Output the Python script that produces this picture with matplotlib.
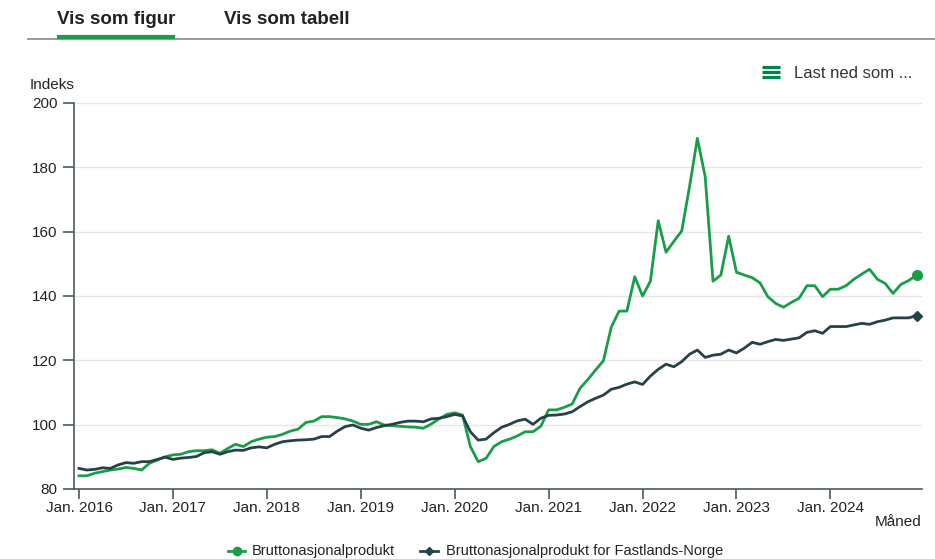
import matplotlib
matplotlib.use("Agg")
import matplotlib.pyplot as plt
from matplotlib.lines import Line2D

plt.rcParams['font.family'] = ['Liberation Sans', 'DejaVu Sans']

series_names = ["Bruttonasjonalprodukt", "Bruttonasjonalprodukt for Fastlands-Norge"]
tick_years = [2016, 2017, 2018, 2019, 2020, 2021, 2022, 2023, 2024]
tick_labels = [f"Jan. {y}" for y in tick_years]
y_ticks = [80, 100, 120, 140, 160, 180, 200]

bnp = [
    84.1, 84.1, 84.9, 85.4, 85.9, 86.2, 86.7, 86.4, 85.9, 88.0, 89.0, 90.0,
    90.6, 90.8, 91.6, 91.9, 91.9, 92.2, 91.1, 92.6, 93.9, 93.2, 94.7, 95.5,
    96.1, 96.3, 97.0, 98.0, 98.6, 100.7, 101.1, 102.5, 102.5, 102.2, 101.8, 101.1,
    100.1, 100.1, 100.9, 99.9, 99.7, 99.5, 99.3, 99.2, 98.9, 100.2, 101.8, 103.2,
    103.7, 103.0, 93.2, 88.5, 89.5, 93.2, 94.7, 95.5, 96.5, 97.8, 97.8, 99.5,
    104.6, 104.6, 105.4, 106.4, 111.3, 114.0, 117.0, 119.9, 130.3, 135.3, 135.3, 146.0,
    140.0, 144.6, 163.4, 153.6, 157.0, 160.2, 174.0, 189.0, 177.1, 144.6, 146.5, 158.6,
    147.4, 146.5, 145.7, 144.1, 139.8, 137.7, 136.5, 138.0, 139.3, 143.2, 143.2, 139.8,
    142.1, 142.1, 143.2, 145.2, 146.8, 148.3, 145.2, 143.9, 140.8, 143.6, 144.8, 146.5,
]
fastland = [
    86.4, 85.9, 86.1, 86.6, 86.4, 87.5, 88.2, 88.0, 88.5, 88.5, 89.2, 89.9,
    89.2, 89.6, 89.8, 90.1, 91.3, 91.6, 90.8, 91.6, 92.1, 92.0, 92.8, 93.1,
    92.8, 93.9, 94.7, 95.0, 95.2, 95.3, 95.5, 96.3, 96.3, 98.0, 99.4, 99.9,
    98.9, 98.3, 99.1, 99.7, 100.1, 100.7, 101.1, 101.1, 100.9, 101.8, 102.0, 102.5,
    103.2, 102.7, 97.8, 95.2, 95.5, 97.5, 99.2, 100.1, 101.2, 101.7, 100.1, 102.0,
    102.9, 103.0, 103.3, 104.0, 105.6, 107.1, 108.2, 109.2, 111.0, 111.6, 112.6, 113.3,
    112.5, 115.1, 117.2, 118.8, 118.0, 119.6, 121.9, 123.2, 120.9, 121.6, 121.9, 123.2,
    122.3, 123.8, 125.6, 125.0, 125.8, 126.5, 126.2, 126.6, 127.0, 128.7, 129.2, 128.4,
    130.5, 130.5, 130.5, 131.0, 131.5, 131.2, 132.0, 132.5, 133.2, 133.2, 133.2, 133.9,
]

GREEN = "#1a9d49"
DARK = "#274247"
TEXT = "#222222"

W, H = 935, 559
fig = plt.figure(figsize=(W / 100, H / 100), dpi=100)

def fx(px):
    return px / W

def fy(py):
    return 1 - py / H

ax = fig.add_axes([fx(74), fy(489), fx(922) - fx(74), fy(103) - fy(489)])
months = list(range(len(bnp)))

ax.plot(months, bnp, color=GREEN, lw=2.0, solid_joinstyle='round', zorder=3)
ax.plot(months, fastland, color=DARK, lw=2.0, solid_joinstyle='round', zorder=3)
ax.plot(months[-1], bnp[-1], 'o', color=GREEN, ms=7, zorder=4)
ax.plot(months[-1], fastland[-1], 'D', color=DARK, ms=5.5, zorder=4)

ax.set_ylim(80, 200)
ax.set_xlim(-0.64, 107.7)
ax.set_yticks(y_ticks)
ax.set_xticks([12 * i for i in range(len(tick_years))])
ax.set_xticklabels(tick_labels)
ax.grid(axis='y', color='#e6e6e6', lw=1.0, zorder=0)
ax.set_axisbelow(True)
for s in ['top', 'right']:
    ax.spines[s].set_visible(False)
for s in ['left', 'bottom']:
    ax.spines[s].set_color('#4a5a5e')
    ax.spines[s].set_linewidth(1.2)
ax.tick_params(axis='y', length=8, width=1.2, color='#4a5a5e', pad=4,
               labelsize=11, labelcolor=TEXT)
ax.tick_params(axis='x', length=7, width=1.2, color='#4a5a5e', pad=2,
               labelsize=11, labelcolor=TEXT)

fig.text(fx(30), fy(85), "Indeks", fontsize=11, color=TEXT, va='center', ha='left')
fig.text(fx(922), fy(522), "Måned", fontsize=11, color=TEXT, va='center', ha='right')

# header tabs
fig.text(fx(57), fy(20), "Vis som figur", fontsize=13.5, fontweight='bold',
         color=TEXT, va='center', ha='left')
fig.text(fx(224), fy(20), "Vis som tabell", fontsize=13.5, fontweight='bold',
         color=TEXT, va='center', ha='left')
fig.add_artist(Line2D([fx(28), fx(935)], [fy(38.5), fy(38.5)], color='#8a9597',
                      lw=1.3, transform=fig.transFigure))
fig.add_artist(Line2D([fx(57), fx(175)], [fy(36.5), fy(36.5)], color=GREEN,
                      lw=3, solid_capstyle='butt', transform=fig.transFigure))

# download menu
for yy in (67, 72, 77):
    fig.add_artist(Line2D([fx(762), fx(780)], [fy(yy), fy(yy)], color='#00824d',
                          lw=2.3, solid_capstyle='butt', transform=fig.transFigure))
fig.text(fx(794), fy(73), "Last ned som ...", fontsize=12, color='#333333',
         va='center', ha='left')

# legend
leg_items = [(228, 245, 252, GREEN, 'o', 6, series_names[0]),
             (420, 438, 446, DARK, 'D', 4.5, series_names[1])]
for x0, x1, xt, col, mk, ms, label in leg_items:
    fig.add_artist(Line2D([fx(x0), fx(x1)], [fy(551), fy(551)], color=col, lw=2,
                          transform=fig.transFigure))
    fig.add_artist(Line2D([fx((x0 + x1) / 2)], [fy(551)], color=col, marker=mk,
                          ms=ms, lw=0, transform=fig.transFigure))
    fig.text(fx(xt), fy(551), label, fontsize=10.5, color=TEXT, va='center', ha='left')

fig.savefig("out.png", dpi=100)
